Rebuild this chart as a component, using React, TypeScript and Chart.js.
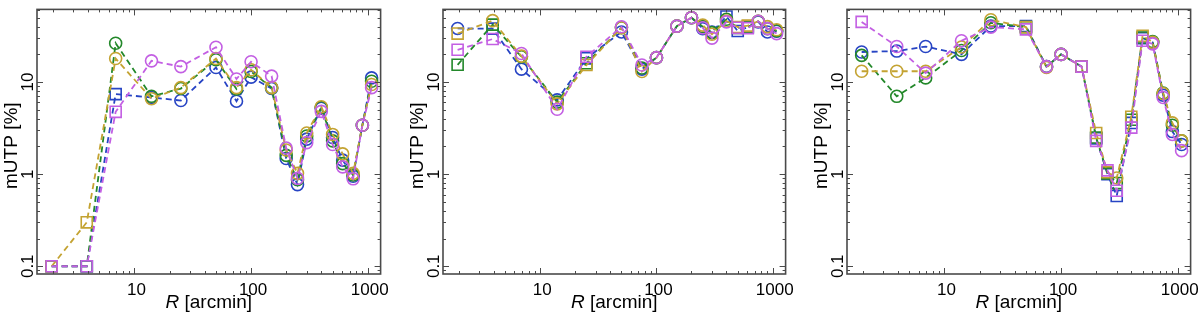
import React, { useEffect, useRef } from 'react';
import { Chart, registerables } from 'chart.js';

Chart.register(...registerables);

// ---------- data ----------
const radii = [1.95, 3.9, 6.9, 14, 25, 50, 75, 100, 150, 200, 250, 300, 400, 500, 610, 750, 900, 1080];

const xTickValues = [10, 100, 1000];
const xTickLabels = ['10', '100', '1000'];
const yTickValues = [0.1, 1, 10];
const yTickLabels = ['0.1', '1', '10'];
const xTitleItalic = 'R';
const xTitleRest = ' [arcmin]';
const yTitle = 'mUTP [%]';

// Panel 1
const p1Blue = [0.1, 0.1, 7.4, 6.8, 6.3, 14.4, 6.2, 11.3, 8.5, 1.48, 0.77, 2.4, 5.2, 2.5, 1.42, 0.95, 3.4, 11.1];
const p1Green = [0.1, 0.1, 26.4, 7.0, 8.5, 17.5, 8.4, 13.0, 8.7, 1.6, 0.87, 2.6, 5.3, 2.3, 1.3, 0.98, 3.4, 10.2];
const p1Gold = [0.1, 0.3, 18, 6.6, 8.7, 18, 8.7, 13.6, 8.7, 1.83, 1.02, 2.8, 5.4, 2.7, 1.66, 1.02, 3.4, 9.4];
const p1Magenta = [0.1, 0.1, 4.75, 17, 14.7, 23.9, 10.8, 16.6, 11.6, 1.92, 0.9, 2.2, 4.8, 2.1, 1.2, 0.89, 3.4, 8.7];
const p1BlueSquares = [0, 1, 2];
const p1GreenSquares = [0, 1];
const p1GoldSquares = [0, 1];
const p1MagentaSquares = [0, 1, 2];

// Panel 2
const p2Blue = [38.2, 38, 13.8, 6.4, 18.1, 35, 13.8, 18.4, 40.5, 50, 38, 35, 51.5, 35.8, 39.5, 45, 35, 35.6];
const p2Green = [15.4, 42, 18.8, 6.06, 16, 39, 14.2, 18.4, 40.5, 50, 40, 34.4, 48, 38.8, 39.5, 45.7, 38, 36];
const p2Gold = [33.6, 46.4, 19.1, 5.8, 15.3, 39, 13, 18.4, 40.5, 50, 41.5, 33, 46, 39.5, 41, 45.7, 40, 37];
const p2Magenta = [22.4, 29.3, 20.4, 5.07, 18.8, 39.8, 15.3, 18.4, 40.5, 50, 38.8, 30, 45, 38.8, 38.5, 45.7, 38, 33.6];
const p2BlueSquares = [1, 4, 12, 13, 14];
const p2GreenSquares = [0, 1, 4, 13, 14];
const p2GoldSquares = [0, 4, 13, 14];
const p2MagentaSquares = [0, 1, 4, 13, 14];

// Panel 3
const p3Blue = [21.2, 21.7, 24.3, 20, 40.5, 40.5, 14.7, 20, 14.7, 2.45, 1.0, 0.58, 3.6, 30, 27, 7.2, 2.9, 2.1];
const p3Green = [19.5, 7.0, 11.1, 22, 44, 39.5, 14.7, 20, 14.7, 2.5, 1.02, 0.8, 3.9, 30.5, 27.5, 7.6, 3.4, 2.3];
const p3Gold = [13.1, 13.1, 13.1, 24, 47.5, 39.5, 14.4, 20, 14.7, 2.8, 1.05, 0.91, 4.2, 31.8, 27, 7.5, 3.6, 2.3];
const p3Magenta = [45, 24.3, 12.5, 28.1, 39.5, 37.3, 14.7, 20, 14.7, 2.3, 1.1, 0.66, 3.2, 28.1, 26, 6.8, 2.7, 1.8];
const p3BlueSquares = [5, 8, 9, 10, 11, 12, 13];
const p3GreenSquares = [5, 8, 9, 10, 11, 12, 13];
const p3GoldSquares = [5, 8, 9, 10, 12, 13];
const p3MagentaSquares = [0, 5, 8, 9, 10, 11, 12, 13];

const xMin = 1.46;
const xMax = 1290;
const yMin = 0.0824;
const yMax = 61.5;

// ---------- styles ----------
const BLUE = '#2744c4';
const GREEN = '#23882a';
const GOLD = '#c4a332';
const MAGENTA = '#c35fe3';
const FONT = '"Liberation Sans", Arial, Helvetica, sans-serif';

type Series = { values: number[]; squares: number[]; color: string };

const panels: { series: Series[]; left: number; padLeft: number; padRight: number }[] = [
  {
    left: 0, padLeft: 37, padRight: 6,
    series: [
      { values: p1Magenta, squares: p1MagentaSquares, color: MAGENTA },
      { values: p1Gold, squares: p1GoldSquares, color: GOLD },
      { values: p1Green, squares: p1GreenSquares, color: GREEN },
      { values: p1Blue, squares: p1BlueSquares, color: BLUE },
    ],
  },
  {
    left: 405, padLeft: 38, padRight: 6,
    series: [
      { values: p2Magenta, squares: p2MagentaSquares, color: MAGENTA },
      { values: p2Gold, squares: p2GoldSquares, color: GOLD },
      { values: p2Green, squares: p2GreenSquares, color: GREEN },
      { values: p2Blue, squares: p2BlueSquares, color: BLUE },
    ],
  },
  {
    left: 810, padLeft: 37, padRight: 7,
    series: [
      { values: p3Magenta, squares: p3MagentaSquares, color: MAGENTA },
      { values: p3Gold, squares: p3GoldSquares, color: GOLD },
      { values: p3Green, squares: p3GreenSquares, color: GREEN },
      { values: p3Blue, squares: p3BlueSquares, color: BLUE },
    ],
  },
];

const framePlugin = {
  id: 'idlFrame',
  afterDatasetsDraw(chart: any) {
    const { ctx, chartArea: a, scales } = chart;
    const xs = scales.x;
    const ys = scales.y;
    ctx.save();
    ctx.strokeStyle = '#4a4a4a';
    ctx.lineWidth = 1;
    const line = (x1: number, y1: number, x2: number, y2: number) => {
      ctx.beginPath();
      ctx.moveTo(x1, y1);
      ctx.lineTo(x2, y2);
      ctx.stroke();
    };
    // ticks
    for (let d = 1; d <= 1000; d *= 10) {
      for (let m = 1; m <= 9; m++) {
        const v = d * m;
        if (v < xs.min || v > xs.max) continue;
        const px = Math.round(xs.getPixelForValue(v)) + 0.5;
        const len = m === 1 ? 6 : 3;
        line(px, a.bottom, px, a.bottom - len);
        line(px, a.top, px, a.top + len);
      }
    }
    for (let d = 0.01; d <= 100; d *= 10) {
      for (let m = 1; m <= 9; m++) {
        const v = d * m;
        if (v < ys.min || v > ys.max) continue;
        const py = Math.round(ys.getPixelForValue(v)) + 0.5;
        const len = m === 1 ? 6 : 3;
        line(a.left, py, a.left + len, py);
        line(a.right, py, a.right - len, py);
      }
    }
    // box
    ctx.lineWidth = 1.6;
    ctx.strokeStyle = '#4a4a4a';
    ctx.strokeRect(a.left, a.top, a.right - a.left, a.bottom - a.top);

    // labels
    ctx.fillStyle = '#000';
    ctx.font = `17px ${FONT}`;
    ctx.textAlign = 'center';
    ctx.textBaseline = 'alphabetic';
    xTickValues.forEach((v, i) => {
      ctx.fillText(xTickLabels[i], xs.getPixelForValue(v) + 2, a.bottom + 21);
    });
    yTickValues.forEach((v, i) => {
      ctx.save();
      ctx.translate(a.left - 4, ys.getPixelForValue(v));
      ctx.rotate(-Math.PI / 2);
      ctx.fillText(yTickLabels[i], 0, 0);
      ctx.restore();
    });
    // x title
    ctx.font = `italic 19px ${FONT}`;
    const wI = ctx.measureText(xTitleItalic).width;
    ctx.font = `19px ${FONT}`;
    const wR = ctx.measureText(xTitleRest).width;
    const cx = (a.left + a.right) / 2;
    const startX = cx - (wI + wR) / 2;
    ctx.textAlign = 'left';
    ctx.font = `italic 19px ${FONT}`;
    ctx.fillText(xTitleItalic, startX, a.bottom + 34);
    ctx.font = `19px ${FONT}`;
    ctx.fillText(xTitleRest, startX + wI, a.bottom + 34);
    // y title
    ctx.save();
    ctx.translate(a.left - 20, (a.top + a.bottom) / 2 + 4);
    ctx.rotate(-Math.PI / 2);
    ctx.textAlign = 'center';
    ctx.fillText(yTitle, 0, 0);
    ctx.restore();
    ctx.restore();
  },
};

function Panel({ idx }: { idx: number }) {
  const ref = useRef<HTMLCanvasElement>(null);
  useEffect(() => {
    const p = panels[idx];
    const chart = new Chart(ref.current!, {
      type: 'line',
      data: {
        datasets: p.series.map((s) => ({
          data: radii.map((x, i) => ({ x, y: s.values[i] })),
          borderColor: s.color,
          borderWidth: 1.8,
          borderDash: [6, 4],
          fill: false,
          tension: 0,
          clip: false as any,
          pointStyle: (c: any) => (s.squares.includes(c.dataIndex) ? 'rect' : 'circle'),
          pointRadius: (c: any) => (s.squares.includes(c.dataIndex) ? 7.8 : 6),
          pointBorderWidth: 1.6,
          pointBorderColor: s.color,
          pointBackgroundColor: 'rgba(0,0,0,0)',
        })),
      },
      options: {
        animation: false,
        responsive: false,
        maintainAspectRatio: false,
        events: [],
        layout: { padding: { left: p.padLeft, right: p.padRight, top: 1, bottom: 39 } },
        plugins: { legend: { display: false }, tooltip: { enabled: false } },
        scales: {
          x: { type: 'logarithmic', min: xMin, max: xMax, display: false },
          y: { type: 'logarithmic', min: yMin, max: yMax, display: false },
        },
      },
      plugins: [framePlugin],
    } as any);
    return () => chart.destroy();
  }, [idx]);
  return (
    <canvas
      ref={ref}
      width={390}
      height={313}
      style={{ position: 'absolute', left: panels[idx].left, top: 0, width: 390, height: 313 }}
    />
  );
}

export default function App() {
  return (
    <div style={{ position: 'absolute', left: 0, top: 0, width: 1200, height: 313, background: '#fff' }}>
      <Panel idx={0} />
      <Panel idx={1} />
      <Panel idx={2} />
    </div>
  );
}
